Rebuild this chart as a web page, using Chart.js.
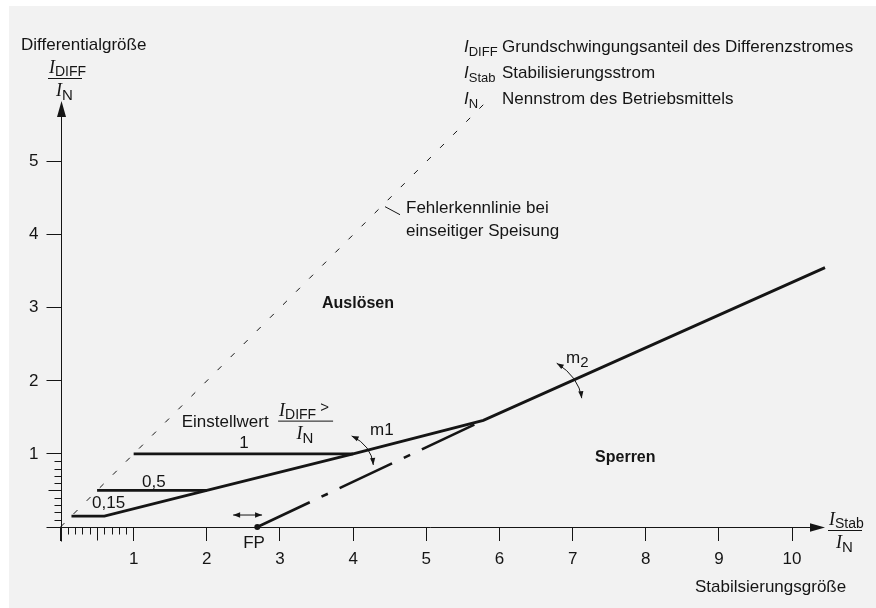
<!DOCTYPE html>
<html>
<head>
<meta charset="utf-8">
<script src="https://cdn.jsdelivr.net/npm/chart.js@4.4.1/dist/chart.umd.min.js"></script>
<style>
  html, body { margin: 0; padding: 0; background: #fff; }
  canvas { display: block; }
</style>
</head>
<body>
<canvas id="chart" width="876" height="608"></canvas>
<script>
// tick values
const xTicks = [0, 1, 2, 3, 4, 5, 6, 7, 8, 9, 10];
const yTicks = [0, 1, 2, 3, 4, 5];
const minorTicks = [0.1, 0.2, 0.3, 0.4, 0.5, 0.6, 0.7, 0.8, 0.9];

// Fehlerkennlinie bei einseitiger Speisung (dashed diagonal)
const faultX = [0, 5.78];
const faultY = [0, 5.78];
// Ausloesekennlinie (0,15 setting, slope m1, then m2)
const charX = [0.15, 0.6, 2, 4, 5.78, 10.45];
const charY = [0.15, 0.15, 0.5, 1, 1.46, 3.55];
// other settings of I_DIFF> / I_N
const set05X = [0.5, 2];
const set05Y = [0.5, 0.5];
const set1X = [1, 4];
const set1Y = [1, 1];
// m2 branch from foot point FP (dash-dot)
const m2X = [2.69, 5.78];
const m2Y = [0, 1.46];
const fpX = [2.69];
const fpY = [0];

const INK = '#151515';
const SANS = '"Liberation Sans", Arial, sans-serif';
const SERIF = '"Liberation Serif", "Times New Roman", serif';

const pts = (xs, ys) => xs.map((x, i) => ({ x: x, y: ys[i] }));

function line(data, width, dash) {
    return {
        data: data,
        showLine: true,
        borderColor: INK,
        borderWidth: width,
        borderDash: dash || [],
        borderCapStyle: 'butt',
        pointRadius: 0,
        tension: 0,
        clip: false
    };
}

function arrowHead(ctx, x, y, ang, len, half) {
    ctx.save();
    ctx.translate(x, y);
    ctx.rotate(ang);
    ctx.beginPath();
    ctx.moveTo(0, 0);
    ctx.lineTo(-len, -half);
    ctx.lineTo(-len, half);
    ctx.closePath();
    ctx.fill();
    ctx.restore();
}

// text runs: [text, font, dy]
function runs(ctx, x, y, parts) {
    let cx = x;
    parts.forEach(p => {
        ctx.font = p[1];
        ctx.fillText(p[0], cx, y + (p[2] || 0));
        cx += ctx.measureText(p[0]).width;
    });
}

// curved double arrow (quadratic)
function curvedArrow(ctx, p0, c, p2) {
    ctx.beginPath();
    ctx.moveTo(p0[0], p0[1]);
    ctx.quadraticCurveTo(c[0], c[1], p2[0], p2[1]);
    ctx.stroke();
    arrowHead(ctx, p0[0], p0[1], Math.atan2(p0[1] - c[1], p0[0] - c[0]), 7, 2.6);
    arrowHead(ctx, p2[0], p2[1], Math.atan2(p2[1] - c[1], p2[0] - c[0]), 7, 2.6);
}

const decor = {
    id: 'decor',
    beforeDraw(chart) {
        const ctx = chart.ctx;
        ctx.save();
        ctx.fillStyle = '#ffffff';
        ctx.fillRect(0, 0, chart.width, chart.height);
        ctx.fillStyle = '#f2f2f2';
        ctx.fillRect(9, 6, chart.width - 9, chart.height - 6);
        ctx.restore();
    },
    afterDraw(chart) {
        const ctx = chart.ctx;
        const xs = chart.scales.x, ys = chart.scales.y;
        const X = v => xs.getPixelForValue(v);
        const Y = v => ys.getPixelForValue(v);
        const x0 = Math.round(X(0)) + 0.5, y0 = Math.round(Y(0)) + 0.5;
        const xEnd = X(xs.max), yEnd = Y(ys.max);

        ctx.save();
        ctx.strokeStyle = INK;
        ctx.fillStyle = INK;
        ctx.lineWidth = 1;

        // axes with arrows
        ctx.beginPath();
        ctx.moveTo(x0, yEnd + 14);
        ctx.lineTo(x0, y0 + 14);
        ctx.moveTo(x0 - 14, y0);
        ctx.lineTo(xEnd - 12, y0);
        ctx.stroke();
        arrowHead(ctx, x0, yEnd, -Math.PI / 2, 16, 4.5);
        arrowHead(ctx, xEnd, y0, 0, 15, 4.2);

        // minor ticks between 0 and 1
        ctx.beginPath();
        minorTicks.forEach(v => {
            const len = v === 0.5 ? 13 : 7;
            const px = Math.round(X(v)) + 0.5;
            ctx.moveTo(px, y0);
            ctx.lineTo(px, y0 + len);
            const py = Math.round(Y(v)) + 0.5;
            ctx.moveTo(x0, py);
            ctx.lineTo(x0 - len, py);
        });
        ctx.stroke();

        // small arrows
        curvedArrow(ctx, [X(3.98), Y(1.247)], [X(4.25), Y(1.116)], [X(4.276), Y(0.849)]);
        curvedArrow(ctx, [X(6.783), Y(2.242)], [X(7.085), Y(2.052)], [X(7.125), Y(1.763)]);
        ctx.beginPath();
        ctx.moveTo(X(2.36), Y(0.164));
        ctx.lineTo(X(2.755), Y(0.164));
        ctx.stroke();
        arrowHead(ctx, X(2.36), Y(0.164), Math.PI, 7, 2.8);
        arrowHead(ctx, X(2.755), Y(0.164), 0, 7, 2.8);
        // leader to the fault line
        ctx.beginPath();
        ctx.moveTo(X(4.436), Y(4.384));
        ctx.lineTo(X(4.641), Y(4.274));
        ctx.stroke();

        // texts
        ctx.textBaseline = 'alphabetic';
        ctx.textAlign = 'left';
        const f17 = '17px ' + SANS, f13 = '13px ' + SANS;
        const iSerif = 'italic 18px ' + SERIF, iSans = 'italic 17px ' + SANS;

        ctx.font = f17;
        ctx.fillText('Differentialgröße', 21, 50);
        ctx.fillText('Stabilsierungsgröße', 695, 592);
        ctx.fillText('Fehlerkennlinie bei', X(4.723), Y(4.301));
        ctx.fillText('einseitiger Speisung', X(4.723), Y(4.301) + 23);
        ctx.fillText('Einstellwert', X(1.657), Y(1.37));
        ctx.fillText('0,5', X(1.114), Y(0.548));
        ctx.fillText('0,15', X(0.431), Y(0.26));
        ctx.fillText('m1', X(4.231), Y(1.26));
        ctx.textAlign = 'center';
        ctx.fillText('1', X(2.509), Y(1.082));
        ctx.fillText('FP', X(2.645), Y(-0.288));
        ctx.textAlign = 'left';
        runs(ctx, X(6.91), Y(2.247), [['m', f17], ['2', '15px ' + SANS, 4]]);

        ctx.font = 'bold 16px ' + SANS;
        ctx.textAlign = 'center';
        ctx.fillText('Auslösen', 358, 308);
        ctx.textAlign = 'left';
        ctx.fillText('Sperren', X(7.307), Y(0.89));

        // legend
        const legend = [['DIFF', 'Grundschwingungsanteil des Differenzstromes'],
                        ['Stab', 'Stabilisierungsstrom'],
                        ['N', 'Nennstrom des Betriebsmittels']];
        legend.forEach((r, i) => {
            const by = 52 + i * 26;
            runs(ctx, 464, by, [['I', iSans], [r[0], f13, 4]]);
            ctx.font = f17;
            ctx.fillText(r[1], 502, by);
        });

        // fractions
        function frac(cx, barY, sub, w, extra) {
            ctx.beginPath();
            ctx.moveTo(cx - w / 2, barY + 0.5);
            ctx.lineTo(cx + w / 2, barY + 0.5);
            ctx.stroke();
            runs(ctx, cx - w / 2 + 1, barY - 5, [['I', iSerif], [sub, '14px ' + SANS, 3], [extra || '', '15px ' + SANS, -4]]);
            runs(ctx, cx - 9, barY + 18, [['I', iSerif], ['N', '15px ' + SANS, 4]]);
        }
        frac(65, 78, 'DIFF', 34);
        frac(845, 530, 'Stab', 34);
        frac(X(3.35), Y(1.456), 'DIFF', 55, ' >');

        ctx.restore();
    }
};

new Chart(document.getElementById('chart'), {
    type: 'scatter',
    data: {
        datasets: [
            line(pts(faultX, faultY), 1, [5.5, 13]),
            line(pts(charX, charY), 2.8),
            line(pts(set05X, set05Y), 2.8),
            line(pts(set1X, set1Y), 2.8),
            line(pts(m2X, m2Y), 2.6, [58, 13, 7, 13]),
            {
                data: pts(fpX, fpY),
                pointRadius: 3,
                pointBackgroundColor: INK,
                pointBorderWidth: 0,
                showLine: false,
                clip: false
            }
        ]
    },
    options: {
        responsive: false,
        animation: false,
        devicePixelRatio: 1,
        layout: { padding: { left: 0, right: 51, top: 101, bottom: 0 } },
        plugins: { legend: { display: false }, tooltip: { enabled: false } },
        events: [],
        scales: {
            x: {
                type: 'linear',
                min: 0,
                max: 10.45,
                afterBuildTicks: s => { s.ticks = xTicks.map(v => ({ value: v })); },
                afterFit: s => { s.height = 81; },
                border: { display: false },
                grid: { drawOnChartArea: false, drawTicks: true, tickLength: 14, color: INK, lineWidth: 1 },
                ticks: {
                    padding: 8, color: INK, autoSkip: false, maxRotation: 0,
                    font: { family: SANS, size: 17 },
                    callback: v => (v === 0 ? '' : String(v))
                }
            },
            y: {
                type: 'linear',
                min: 0,
                max: 5.83,
                afterBuildTicks: s => { s.ticks = yTicks.map(v => ({ value: v })); },
                afterFit: s => { s.width = 60.5; },
                border: { display: false },
                grid: { drawOnChartArea: false, drawTicks: true, tickLength: 14, color: INK, lineWidth: 1 },
                ticks: {
                    padding: 8, color: INK, autoSkip: false,
                    font: { family: SANS, size: 17 },
                    callback: v => (v === 0 ? '' : String(v))
                }
            }
        }
    },
    plugins: [decor]
});
</script>
</body>
</html>
